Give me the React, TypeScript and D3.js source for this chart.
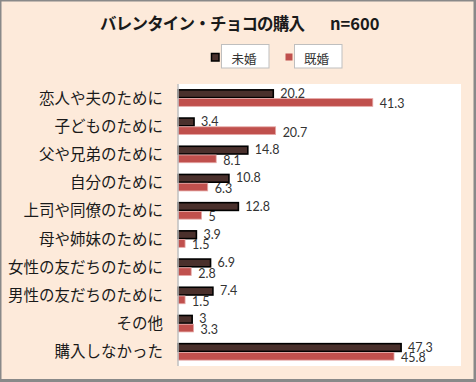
import React from "react";
import * as d3 from "d3";

const categories = [
  "恋人や夫のために",
  "子どものために",
  "父や兄弟のために",
  "自分のために",
  "上司や同僚のために",
  "母や姉妹のために",
  "女性の友だちのために",
  "男性の友だちのために",
  "その他",
  "購入しなかった",
];
const unmarried = [20.2, 3.4, 14.8, 10.8, 12.8, 3.9, 6.9, 7.4, 3, 47.3];
const married = [41.3, 20.7, 8.1, 6.3, 5, 1.5, 2.8, 1.5, 3.3, 45.8];
const seriesNames = ["未婚", "既婚"];
const xDomain = [0, 60];

const W = 476;
const H = 382;
const plot = { left: 178, right: 461, top: 84, bottom: 366 };

export default function App() {
  const x = d3.scaleLinear().domain(xDomain).range([plot.left, plot.right]);
  const y = d3.scaleBand().domain(categories).range([plot.top, plot.bottom]);
  const step = y.bandwidth();
  const groupH = step * 0.62;
  const sub = d3
    .scaleBand()
    .domain(seriesNames)
    .range([(step - groupH) / 2, (step + groupH) / 2]);
  const bh = sub.bandwidth();
  const jp = "'Noto Sans CJK JP', 'Noto Sans', sans-serif";
  const num = "Lato, 'Open Sans', sans-serif";

  return (
    <svg
      width={W}
      height={H}
      style={{ position: "absolute", left: 0, top: 0, display: "block" }}
    >
      <rect x={0} y={0} width={W} height={H} fill="#898989" />
      <rect x={1.5} y={1.5} width={W - 4} height={H - 4.5} fill="#FDEADA" />
      <rect
        x={plot.left}
        y={plot.top}
        width={plot.right - plot.left}
        height={plot.bottom - plot.top}
        fill="#ffffff"
      />
      {/* Title */}
      <text
        x={100}
        y={29.5}
        fontFamily={jp}
        fontWeight="bold"
        fontSize={16.5}
        fill="#1a1a1a"
        textLength={205}
      >
        バレンタイン・チョコの購入
      </text>
      <text
        x={330}
        y={29.5}
        fontFamily={jp}
        fontWeight="bold"
        fontSize={16.5}
        fill="#1a1a1a"
      >
        n=600
      </text>
      {/* Legend */}
      <rect x={211.5} y={53.5} width={7.5} height={7.5} fill="#4A302C" stroke="#000" strokeWidth={1.5} />
      <rect x={221.5} y={44.5} width={47.5} height={23.5} fill="#fff" stroke="#bfbfbf" strokeWidth={1} />
      <text x={231.5} y={63.5} fontFamily={jp} fontSize={12.5} fill="#333">
        {seriesNames[0]}
      </text>
      <rect x={285.5} y={53.5} width={7} height={7} fill="#C0504D" />
      <rect x={294.5} y={44.5} width={47.5} height={23.5} fill="#fff" stroke="#bfbfbf" strokeWidth={1} />
      <text x={304} y={63.5} fontFamily={jp} fontSize={12.5} fill="#333">
        {seriesNames[1]}
      </text>
      {/* Category labels */}
      {categories.map((c) => (
        <text
          key={c}
          x={163}
          y={(y(c) ?? 0) + step / 2}
          dy="0.36em"
          textAnchor="end"
          fontFamily={jp}
          fontSize={15.5}
          fill="#1a1a1a"
        >
          {c}
        </text>
      ))}
      {/* Bars */}
      {categories.map((c, i) => {
        const y0 = y(c) ?? 0;
        const yu = y0 + (sub(seriesNames[0]) ?? 0);
        const ym = y0 + (sub(seriesNames[1]) ?? 0);
        return (
          <g key={c}>
            <rect
              x={x(0)}
              y={yu + 0.5}
              width={x(unmarried[i]) - x(0)}
              height={bh - 1}
              fill="#4A302C"
              stroke="#000"
              strokeWidth={1.6}
            />
            <rect
              x={x(0)}
              y={ym + 0.5}
              width={x(married[i]) - x(0)}
              height={bh - 1}
              fill="#C0504D"
              stroke="#E6A9A7"
              strokeWidth={0.8}
            />
            <text
              x={x(unmarried[i]) + 7}
              y={yu + bh / 2 - 0.5}
              dy="0.36em"
              fontFamily={num}
              fontSize={12.5}
              fill="#333"
            >
              {unmarried[i]}
            </text>
            <text
              x={x(married[i]) + 7}
              y={ym + bh / 2 + 1.5}
              dy="0.36em"
              fontFamily={num}
              fontSize={12.5}
              fill="#333"
            >
              {married[i]}
            </text>
          </g>
        );
      })}
      {/* Axis line */}
      <line
        x1={x(0)}
        x2={x(0)}
        y1={plot.top}
        y2={plot.bottom}
        stroke="#bfbfbf"
        strokeWidth={1.5}
      />
    </svg>
  );
}
